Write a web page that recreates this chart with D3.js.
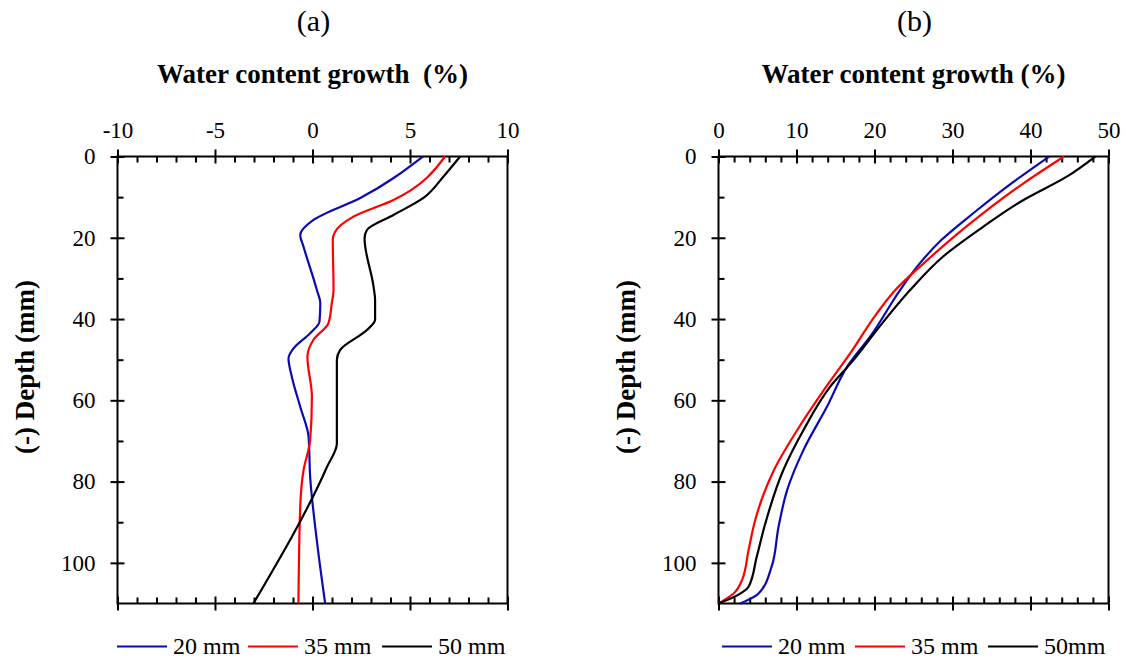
<!DOCTYPE html>
<html lang="en">
<head>
<meta charset="UTF-8">
<title>Water content growth profiles</title>
<script src="https://cdnjs.cloudflare.com/ajax/libs/d3/7.9.0/d3.min.js"></script>
<style>
    body { margin: 0; padding: 0; background: #fff; }
    svg { display: block; }
    svg text { font-family: "Liberation Serif", "Times New Roman", serif; fill: #000; }
</style>
</head>
<body>
<svg id="chart" width="1126" height="661"></svg>
<script>
// ---- data: depth (mm) and water content growth (%) ----
const seriesNames = ["20 mm", "35 mm", "50 mm"];
const seriesNamesB = ["20 mm", "35 mm", "50mm"];
const seriesColors = ["#0a0ab4", "#ff0000", "#000000"];

// panel (a)
const a20Depth  = [0, 10.2, 15.6, 19.3, 22.2, 32.8, 36.1, 40.6, 43.5, 47.2, 49.7, 54.2, 61.6, 69, 78.8, 94.4, 110];
const a20Growth = [5.66, 2.45, 0.05, -0.63, -0.46, 0.22, 0.4, 0.36, -0.12, -0.97, -1.23, -1.06, -0.63, -0.2, -0.12, 0.22, 0.65];
const a35Depth  = [0, 10.7, 14.8, 18.5, 20.5, 32.8, 36.1, 41, 45.1, 49.3, 59.1, 69.8, 77.2, 86.2, 110];
const a35Growth = [6.8, 4.15, 2.1, 1.16, 1.04, 1.08, 0.99, 0.82, 0.05, -0.26, -0.03, -0.12, -0.46, -0.63, -0.72];
const a50Depth  = [0, 4.9, 10.2, 14.4, 18.1, 20.1, 32, 35.3, 40.2, 42.7, 47.6, 50.1, 70.6, 76.4, 110];
const a50Growth = [7.57, 6.72, 5.69, 4.15, 2.79, 2.67, 3.13, 3.21, 3.21, 2.79, 1.42, 1.25, 1.25, 0.74, -3.03];

// panel (b)
const b20Depth  = [0, 7.4, 13.9, 20.5, 26.3, 32.8, 43.9, 51.7, 61.6, 72.2, 82.1, 91.1, 101, 107.6, 110];
const b20Growth = [42.4, 37, 32.7, 28.6, 25.8, 23.3, 19.6, 16.5, 13.9, 10.9, 8.8, 7.7, 6.8, 5.1, 2.8];
const b35Depth  = [0, 6.6, 17.2, 26.3, 32.8, 38.6, 48.4, 57.5, 67.3, 77.2, 89.5, 96.9, 104.3, 107.6, 110];
const b35Growth = [44.3, 39.1, 31.8, 26.3, 22.7, 20.3, 16.9, 13.5, 10.1, 7.1, 4.7, 3.85, 3.0, 1.9, 0];
const b50Depth  = [0, 4.9, 10.7, 17.2, 24.6, 32.8, 42.7, 50.1, 56.7, 67.3, 77.2, 90.3, 98.5, 105.9, 108, 110];
const b50Growth = [48.3, 44.7, 39.1, 34, 28.8, 24.6, 20.3, 17.3, 14.3, 10.9, 8.3, 6.0, 4.9, 3.85, 2.4, 0];

const depthTicks = [0, 20, 40, 60, 80, 100];
const depthMinor = [10, 30, 50, 70, 90];

const panels = [
    {
        label: "(a)", xTitle: "Water content growth\u00a0\u00a0(%)",
        domain: [-10, 10], major: [-10, -5, 0, 5, 10], minorStep: 1,
        left: 117.5, right: 507.5, names: seriesNames,
        series: [[a20Depth, a20Growth], [a35Depth, a35Growth], [a50Depth, a50Growth]],
        legendX: [117, 248, 382]
    },
    {
        label: "(b)", xTitle: "Water content growth (%)",
        domain: [0, 50], major: [0, 10, 20, 30, 40, 50], minorStep: 2,
        left: 718.5, right: 1108.5, names: seriesNamesB,
        series: [[b20Depth, b20Growth], [b35Depth, b35Growth], [b50Depth, b50Growth]],
        legendX: [722, 855, 988]
    }
];

const plotTop = 156.5, plotBottom = 603.5;
const svg = d3.select("#chart");

panels.forEach(p => {
    const x = d3.scaleLinear().domain(p.domain).range([p.left, p.right]);
    const y = d3.scaleLinear().domain([0, 110]).range([plotTop, plotBottom]);
    const minor = d3.range(p.domain[0], p.domain[1] + 0.001, p.minorStep).filter(v => !p.major.includes(v));
    const g = svg.append("g");
    const mid = (p.left + p.right) / 2;

    // titles
    g.append("text").attr("x", mid + 1).attr("y", 31).attr("text-anchor", "middle")
        .attr("font-size", 30).text(p.label);
    g.append("text").attr("x", mid).attr("y", 83).attr("text-anchor", "middle")
        .attr("font-size", 27).attr("font-weight", "bold").text(p.xTitle);
    g.append("text").attr("transform", `translate(${p.left - 84},${(plotTop + plotBottom) / 2 - 13}) rotate(-90)`)
        .attr("text-anchor", "middle").attr("font-size", 27).attr("font-weight", "bold")
        .text("(-) Depth (mm)");

    // frame
    g.append("rect").attr("x", p.left).attr("y", plotTop)
        .attr("width", p.right - p.left).attr("height", plotBottom - plotTop)
        .attr("fill", "none").attr("stroke", "#000").attr("stroke-width", 2);

    // top axis: labels + crossing major ticks + inward minor ticks
    const topAxis = g.append("g").attr("transform", `translate(0,${plotTop})`);
    topAxis.call(d3.axisTop(x).tickValues(p.major).tickSize(7).tickPadding(12).tickFormat(d => String(d)));
    topAxis.append("g").call(d3.axisTop(x).tickValues(p.major).tickSize(-7).tickFormat(""));
    topAxis.append("g").call(d3.axisTop(x).tickValues(minor).tickSize(-6).tickFormat(""));

    const botAxis = g.append("g").attr("transform", `translate(0,${plotBottom})`);
    botAxis.call(d3.axisBottom(x).tickValues(p.major).tickSize(7).tickFormat(""));
    botAxis.append("g").call(d3.axisBottom(x).tickValues(p.major).tickSize(-7).tickFormat(""));
    botAxis.append("g").call(d3.axisBottom(x).tickValues(minor).tickSize(-6).tickFormat(""));

    const leftAxis = g.append("g").attr("transform", `translate(${p.left},0)`);
    leftAxis.call(d3.axisLeft(y).tickValues(depthTicks).tickSize(7).tickPadding(15).tickFormat(d => String(d)));
    leftAxis.append("g").call(d3.axisLeft(y).tickValues(depthTicks).tickSize(-7).tickFormat(""));
    leftAxis.append("g").call(d3.axisLeft(y).tickValues(depthMinor).tickSize(-6).tickFormat(""));

    g.selectAll(".domain").remove();
    g.selectAll(".tick line").attr("stroke", "#000").attr("stroke-width", 2);
    g.selectAll(".tick text").attr("font-size", 23);

    // curves
    const line = d3.line()
        .x(d => x(d[1])).y(d => y(d[0]))
        .curve(d3.curveMonotoneY);
    p.series.forEach((s, i) => {
        const pts = s[0].map((d, k) => [d, s[1][k]]);
        g.append("path").datum(pts).attr("d", line)
            .attr("fill", "none").attr("stroke", seriesColors[i]).attr("stroke-width", 2.2);
    });

    // legend
    const ly = 646.5;
    p.names.forEach((name, i) => {
        const lx = p.legendX[i];
        g.append("line").attr("x1", lx).attr("x2", lx + 50).attr("y1", ly).attr("y2", ly)
            .attr("stroke", seriesColors[i]).attr("stroke-width", 2.2);
        g.append("text").attr("x", lx + 56).attr("y", 654).attr("font-size", 24).text(name);
    });
});
</script>
</body>
</html>
